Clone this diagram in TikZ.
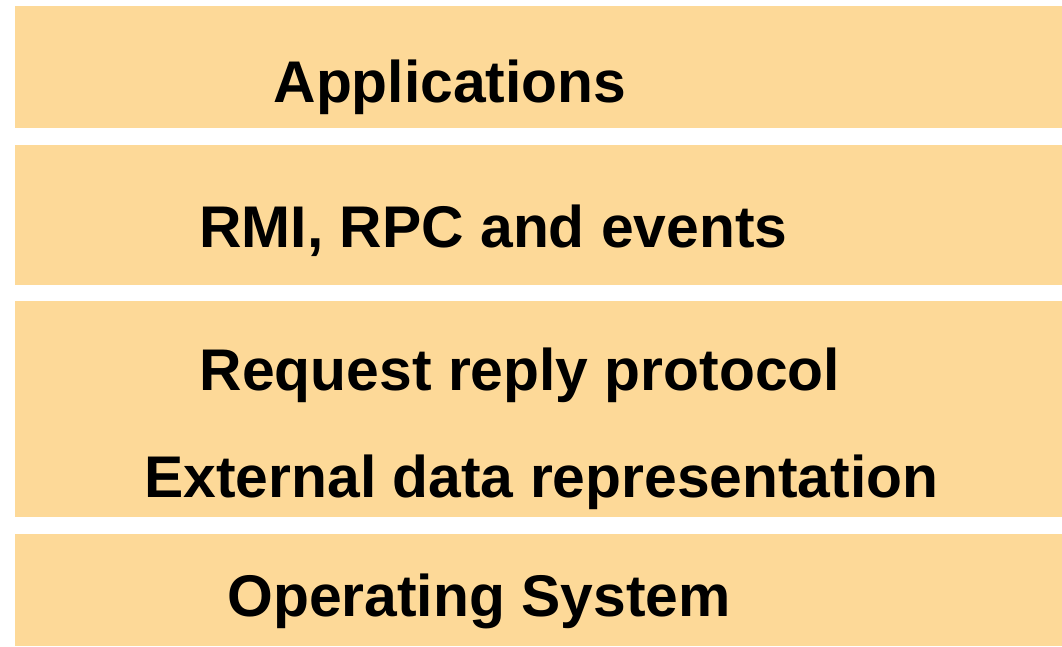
\documentclass[tikz,border=0pt]{standalone}
\usepackage{fontspec}
\setmainfont{Liberation Sans}
\definecolor{band}{RGB}{253,217,152}
\begin{document}
\begin{tikzpicture}[x=1pt,y=-1pt,
  layer/.style={fill=band,draw=none},
  lbl/.style={anchor=base,inner sep=0pt,font=\fontsize{58.8}{60}\selectfont\bfseries}]
\useasboundingbox (0,0) rectangle (1062,646);
\path[layer] (15,6) rectangle (1062,128);
\path[layer] (15,145) rectangle (1062,285);
\path[layer] (15,301) rectangle (1062,517);
\path[layer] (15,534) rectangle (1062,646);
\node[lbl] (app) at (450,102) {Applications};
\node[lbl] (rmi) at (493.5,247) {RMI, RPC and events};
\node[lbl] (rrp) at (520,390) {Request reply protocol};
\node[lbl] (edr) at (541.5,497) {External data representation};
\node[lbl] (os) at (479,616) {Operating System};
\end{tikzpicture}
\end{document}
